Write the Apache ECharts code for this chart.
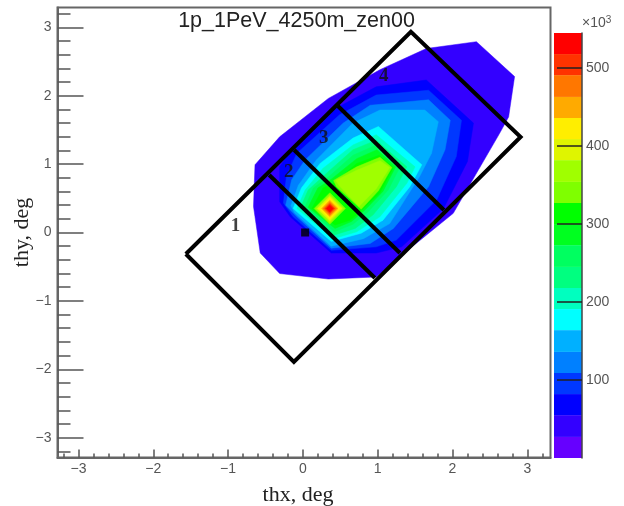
<!DOCTYPE html>
<html><head><meta charset="utf-8">
<style>html,body{margin:0;padding:0;background:#fff}#c{width:624px;height:506px}</style>
<script src="https://cdn.jsdelivr.net/npm/echarts@6/dist/echarts.min.js"></script>
</head><body><div id="c"></div>
<script>
const titleText = '1p_1PeV_4250m_zen00';
const xName = 'thx, deg';
const yName = 'thy, deg';
const majorTicks = [-3,-2,-1,0,1,2,3];
const minorTicks = [-3.2,-2.8,-2.6,-2.4,-2.2,-1.8,-1.6,-1.4,-1.2,-0.8,-0.6,-0.4,-0.2,0.2,0.4,0.6,0.8,1.2,1.4,1.6,1.8,2.2,2.4,2.6,2.8,3.2];
const colorbarTicks = [100, 200, 300, 400, 500];
const levelEdges = [0,27,55,82,109,136,164,191,218,245,273,300,327,354,382,409,436,463,491,518,545];
const levelColors = ['#6600ff','#3300ff','#0000ff','#0038ff','#0080ff','#00b0ff','#00ffff','#00ffbf','#00ff80','#00ff60','#00ff20','#00ff00','#7fff00','#a0ff00','#dff500','#ffee00','#ffaa00','#ff7700','#ff3300','#ff0000'];

// contour outlines [thx, thy]; band = index into levelColors
const band2 = [[2.32,2.79],[2.83,2.28],[2.75,1.69],[2.63,1.45],[2.19,0.62],[2.01,0.28],[1.30,-0.35],[0.98,-0.65],[0.34,-0.68],[-0.31,-0.60],[-0.57,-0.30],[-0.66,0.38],[-0.64,0.99],[-0.31,1.40],[0.34,1.96],[1.03,2.38],[1.65,2.69]];
const band3 = [[1.65,2.23],[2.28,1.60],[2.20,1.04],[1.88,0.35],[1.32,-0.21],[0.98,-0.30],[0.38,-0.30],[-0.17,0.23],[-0.31,0.45],[-0.31,0.96],[-0.11,1.28],[0.45,1.82],[0.98,2.13]];
const band4 = [[1.68,2.08],[2.12,1.64],[2.05,1.11],[1.79,0.48],[1.25,-0.11],[0.98,-0.21],[0.38,-0.26],[-0.13,0.23],[-0.26,0.43],[-0.22,0.82],[-0.08,1.16],[0.49,1.72],[0.98,2.01]];
const band5 = [[1.68,1.94],[1.97,1.64],[1.90,1.21],[1.68,0.67],[1.21,0.06],[0.90,-0.16],[0.38,-0.23],[-0.08,0.23],[-0.23,0.40],[-0.15,0.77],[0.03,1.06],[0.54,1.60],[0.90,1.86]];
const band6 = [[1.63,1.79],[1.81,1.62],[1.72,1.16],[1.56,0.82],[1.16,0.13],[0.81,-0.09],[0.38,-0.20],[-0.11,0.29],[-0.16,0.39],[-0.06,0.69],[0.18,1.06],[0.67,1.60],[1.03,1.79]];
const band7 = [[1.01,1.55],[1.59,0.99],[1.43,0.67],[1.07,0.18],[0.78,-0.01],[0.38,-0.13],[-0.13,0.35],[-0.02,0.65],[0.23,1.01],[0.67,1.38]];
const band8 = [[0.98,1.43],[1.50,0.96],[1.39,0.72],[1.03,0.23],[0.72,0.01],[0.41,-0.09],[-0.08,0.35],[0.03,0.62],[0.27,0.94],[0.67,1.28]];
const band9 = [[0.98,1.35],[1.39,0.96],[1.25,0.67],[0.94,0.26],[0.70,0.06],[0.41,-0.04],[-0.03,0.37],[0.07,0.62],[0.32,0.87],[0.67,1.21]];
const band10 = [[0.98,1.28],[1.30,0.96],[1.14,0.62],[0.87,0.30],[0.67,0.12],[0.42,0.01],[0.03,0.38],[0.14,0.65],[0.36,0.83],[0.67,1.13]];
const band11 = [[0.99,1.21],[1.24,0.96],[1.07,0.60],[0.83,0.33],[0.65,0.16],[0.43,0.06],[0.07,0.37],[0.20,0.65],[0.38,0.78],[0.72,1.08]];
const band12 = [[1.02,1.13],[1.21,0.95],[1.03,0.58],[0.80,0.34],[0.63,0.18],[0.43,0.11],[0.12,0.35],[0.27,0.65],[0.41,0.72],[0.72,1.01]];
const band13lobe = [[1.03,1.10],[1.19,0.95],[1.01,0.61],[0.78,0.34],[0.45,0.67],[0.41,0.76],[0.72,0.96]];
const band14lobe = [[1.03,1.05],[1.16,0.95],[0.98,0.64],[0.75,0.38],[0.49,0.68],[0.44,0.76],[0.72,0.91]];
const band13peak = [[0.36,0.58],[0.57,0.35],[0.36,0.12],[0.15,0.35]];
const band14peak = [[0.36,0.555],[0.547,0.35],[0.36,0.145],[0.173,0.35]];
const band15peak = [[0.36,0.53],[0.525,0.35],[0.36,0.17],[0.195,0.35]];
const band16peak = [[0.36,0.506],[0.50,0.35],[0.36,0.194],[0.22,0.35]];
const band17peak = [[0.36,0.47],[0.47,0.35],[0.36,0.23],[0.25,0.35]];
const band18peak = [[0.36,0.447],[0.45,0.35],[0.36,0.253],[0.27,0.35]];
const band19peak = [[0.36,0.423],[0.427,0.35],[0.36,0.277],[0.293,0.35]];
const band20peak = [[0.36,0.40],[0.405,0.35],[0.36,0.30],[0.315,0.35]];
const contours = [
  [1,band2],[2,band3],[3,band4],[4,band5],[5,band6],[6,band7],[7,band8],[8,band9],[9,band10],[10,band11],[11,band12],
  [12,band13lobe],[13,band14lobe],[12,band13peak],[13,band14peak],[14,band15peak],[15,band16peak],[16,band17peak],[17,band18peak],[18,band19peak],[19,band20peak]
];

// overlaid regions
const regionOutline = [[-1.564,-0.314],[1.444,2.936],[2.91,1.396],[-0.12,-1.893],[-1.564,-0.314]];
const divider12 = [[-0.45,0.84],[0.963,-0.665]];
const divider23 = [[-0.116,1.206],[1.297,-0.30]];
const divider34 = [[0.468,1.849],[1.885,0.329]];
const regionLabels = [[-0.90,0.10,'1'],[-0.19,0.88,'2'],[0.28,1.38,'3'],[1.08,2.29,'4']];
const sourcePoint = [[0.03,0]];

const tickFont = {color:'#555', fontFamily:'"Liberation Sans",Arial,sans-serif', fontSize:14};
const minusFmt = v => String(v).replace('-', '\u2212');
const XR = [-3.28, 3.31], YR = [-3.29, 3.29];

const series = [];
contours.forEach(([band, poly]) => {
  series.push({
    type:'custom', xAxisIndex:0, yAxisIndex:0, silent:true, z:2, clip:true,
    data:[[poly[0][0], poly[0][1]]],
    renderItem:(p, api) => ({type:'polygon', shape:{points:poly.map(q => api.coord(q))}, style:{fill:levelColors[band], stroke:levelColors[band], lineWidth:0.5}})
  });
});
[regionOutline, divider12, divider23, divider34].forEach(line => {
  series.push({
    type:'custom', xAxisIndex:0, yAxisIndex:0, silent:true, z:4, clip:false,
    data:[[line[0][0], line[0][1]]],
    renderItem:(p, api) => ({type:'polyline', shape:{points:line.map(q => api.coord(q))}, style:{fill:null, stroke:'#000', lineWidth:4, lineJoin:'miter'}})
  });
});
series.push({type:'scatter', xAxisIndex:0, yAxisIndex:0, silent:true, z:5, symbol:'rect', symbolSize:8, itemStyle:{color:'#000'}, data:sourcePoint});
series.push({type:'scatter', xAxisIndex:0, yAxisIndex:0, silent:true, z:5, symbolSize:0, data:regionLabels,
  label:{show:true, position:'inside', formatter:p => p.value[2], fontFamily:'"Liberation Serif",serif', fontWeight:'bold', fontSize:19, color:'#111'}});
series.push({
  type:'custom', xAxisIndex:1, yAxisIndex:2, silent:true, z:1,
  data:levelColors.map((c,i) => [levelEdges[i], levelEdges[i+1], i]),
  encode:{y:[0,1]},
  renderItem:(p, api) => {
    const a = api.coord([0, api.value(0)]), b = api.coord([1, api.value(1)]);
    return {type:'rect', shape:{x:a[0], y:b[1], width:b[0]-a[0], height:a[1]-b[1]}, style:{fill:levelColors[api.value(2)]}};
  }
});

const chart = echarts.init(document.getElementById('c'), null, {renderer:'canvas'});
chart.setOption({
  backgroundColor:'#fff',
  animation:false,
  title:{text:titleText, left:291.5, top:5, textAlign:'center', textStyle:{fontFamily:'"Liberation Sans",Arial,sans-serif', fontSize:21.5, fontWeight:'normal', color:'#222'}},
  grid:[
    {left:57.5, top:7.5, width:493, height:450, show:true, borderColor:'#666', borderWidth:2, backgroundColor:'transparent', outerBoundsMode:'none', containLabel:false},
    {left:554, top:33, width:28, height:425, show:false, outerBoundsMode:'none', containLabel:false}
  ],
  xAxis:[
    {type:'value', gridIndex:0, min:XR[0], max:XR[1], splitLine:{show:false},
     axisLine:{show:true, onZero:false, lineStyle:{color:'#666', width:2}},
     axisTick:{show:true, inside:true, length:8, customValues:majorTicks, lineStyle:{color:'#555', width:1.5}},
     axisLabel:{...tickFont, margin:5, customValues:majorTicks, formatter:minusFmt},
     name:xName, nameLocation:'middle', nameGap:27, nameTextStyle:{fontFamily:'"Liberation Serif",serif', fontSize:22, color:'#222', padding:[0,12,0,0]}},
    {type:'value', gridIndex:1, min:0, max:1, show:false},
    {type:'value', gridIndex:0, min:XR[0], max:XR[1], position:'bottom', splitLine:{show:false}, axisLine:{show:false, onZero:false}, axisLabel:{show:false},
     axisTick:{show:true, inside:true, length:4, customValues:minorTicks, lineStyle:{color:'#555', width:1.5}}}
  ],
  yAxis:[
    {type:'value', gridIndex:0, min:YR[0], max:YR[1], splitLine:{show:false},
     axisLine:{show:true, onZero:false, lineStyle:{color:'#666', width:2}},
     axisTick:{show:true, inside:true, length:26, customValues:majorTicks, lineStyle:{color:'#555', width:1.5}},
     axisLabel:{...tickFont, margin:6, customValues:majorTicks, formatter:minusFmt},
     name:yName, nameLocation:'middle', nameGap:24, nameMoveOverlap:false, nameRotate:90, nameTextStyle:{fontFamily:'"Liberation Serif",serif', fontSize:22, color:'#222'}},
    {type:'value', gridIndex:0, min:YR[0], max:YR[1], position:'left', splitLine:{show:false}, axisLine:{show:false, onZero:false}, axisLabel:{show:false},
     axisTick:{show:true, inside:true, length:13, customValues:minorTicks, lineStyle:{color:'#555', width:1.5}}},
    {type:'value', gridIndex:1, position:'right', min:0, max:545, z:6, splitLine:{show:false},
     axisLine:{show:true, onZero:false, lineStyle:{color:'#444', width:1.5}},
     axisTick:{show:true, inside:true, length:25, customValues:colorbarTicks, lineStyle:{color:'#222', width:1.5}},
     axisLabel:{...tickFont, margin:4, customValues:colorbarTicks},
     name:'{a|\u00d710}{b|3}', nameLocation:'end', nameGap:2,
     nameTextStyle:{align:'left', rich:{a:{...tickFont, fontSize:14}, b:{...tickFont, fontSize:10, verticalAlign:'top', padding:[0,0,6,0]}}}}
  ],
  series
});
</script></body></html>
